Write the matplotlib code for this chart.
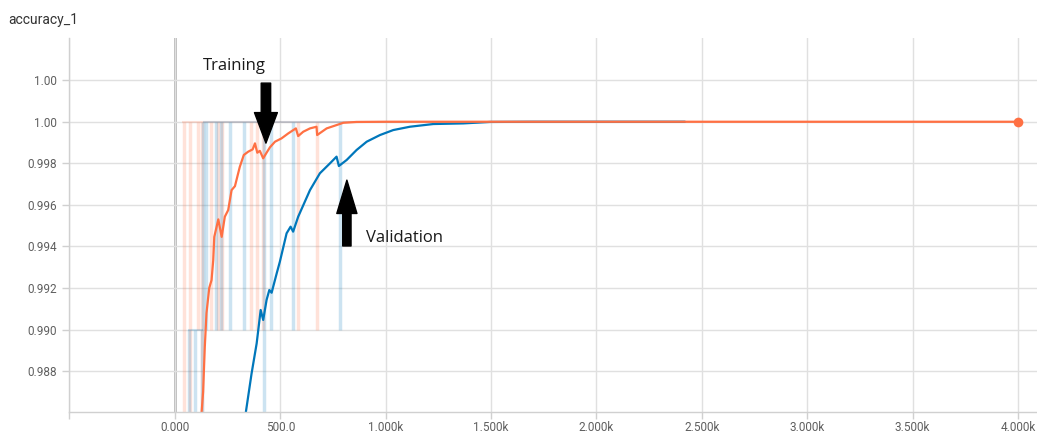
import matplotlib.pyplot as plt
import numpy as np

# smoothed curves
train_steps = [120, 127, 134, 142, 150, 163, 174, 182, 187, 206, 222, 237, 253, 269, 285,
               308, 327, 348, 369, 380, 391, 403, 419, 435, 451, 475, 506, 538, 574, 585,
               609, 641, 672, 675, 720, 767, 799, 862, 1000, 2000, 3000, 4000]
train_acc = [0.9852, 0.98604, 0.98700, 0.98917, 0.99079, 0.99200, 0.99238, 0.99334, 0.99446,
             0.99530, 0.99446, 0.99543, 0.99575, 0.99671, 0.99690, 0.99783, 0.99840, 0.99856,
             0.99867, 0.99896, 0.99851, 0.99860, 0.99824, 0.99851, 0.99877, 0.99904, 0.99920,
             0.99944, 0.99968, 0.99931, 0.99952, 0.99968, 0.99976, 0.99936, 0.99968, 0.99984,
             0.99995, 0.99999, 1.0, 1.0, 1.0, 1.0]

val_steps = [325, 337, 364, 388, 407, 419, 435, 448, 459, 483, 498, 530, 549, 561, 585, 641,
             688, 736, 767, 778, 815, 862, 910, 973, 1036, 1115, 1226, 1368, 1495, 1700, 2420]
val_acc = [0.9852, 0.98604, 0.98789, 0.98933, 0.99094, 0.99046, 0.99142, 0.99190, 0.99177,
           0.99270, 0.99326, 0.99463, 0.99495, 0.99471, 0.99543, 0.99671, 0.99752, 0.99800,
           0.99832, 0.99787, 0.99816, 0.99864, 0.99904, 0.99936, 0.99960, 0.99976, 0.99989,
           0.99992, 0.99999, 1.0, 1.0]

# raw (unsmoothed) dips: step, low value, high value
train_dip_steps = [45, 71, 112, 128, 170, 205, 222, 362, 390, 419, 585, 675]
train_dip_low = [0.97, 0.975, 0.99, 0.97, 0.99, 0.99, 0.99, 0.99, 0.99, 0.99, 0.99, 0.99]
train_raw_span = [33, 4000]

val_dip_steps = [66, 95, 128, 132, 147, 195, 218, 261, 327, 422, 456, 560, 783]
val_dip_low = [0.97, 0.97, 0.97, 0.99, 0.99, 0.99, 0.99, 0.99, 0.99, 0.975, 0.99, 0.99, 0.99]
val_dip_high = [0.99, 0.99, 0.99, 1.0, 1.0, 1.0, 1.0, 1.0, 1.0, 1.0, 1.0, 1.0, 1.0]
val_early_span = [62, 132]
val_raw_span = [132, 2420]

x_ticks = [-500, 0, 500, 1000, 1500, 2000, 2500, 3000, 3500, 4000]
x_labels = ['', '0.000', '500.0', '1.000k', '1.500k', '2.000k', '2.500k', '3.000k', '3.500k', '4.000k']
y_ticks = [0.988, 0.990, 0.992, 0.994, 0.996, 0.998, 1.000, 1.002]
y_labels = ['0.988', '0.990', '0.992', '0.994', '0.996', '0.998', '1.00', '1.00']

orange = '#ff7043'
blue = '#0077bb'
grid_c = '#e0e0e0'

plt.rcParams['font.family'] = ['Roboto', 'DejaVu Sans']

fig = plt.figure(figsize=(10.37, 4.33), dpi=100)
ax = fig.add_axes([0.0670, 0.0485, 0.9330, 0.8637])

# raw data, faint
ax.hlines(1.0, train_raw_span[0], train_raw_span[1], color=orange, alpha=0.2, lw=1.5)
ax.vlines(train_dip_steps, train_dip_low, 1.0, color=orange, alpha=0.2, lw=2.5)
ax.hlines(0.99, val_early_span[0], val_early_span[1], color=blue, alpha=0.2, lw=1.5)
ax.hlines(1.0, val_raw_span[0], val_raw_span[1], color=blue, alpha=0.2, lw=1.5)
ax.vlines(val_dip_steps, val_dip_low, val_dip_high, color=blue, alpha=0.2, lw=2.5)

# smoothed
ax.plot(val_steps, val_acc, color=blue, lw=1.6, solid_capstyle='round')
ax.plot(train_steps, train_acc, color=orange, lw=1.6, solid_capstyle='round')
ax.plot(train_steps[-1], train_acc[-1], 'o', color=orange, ms=7, mec='none')

ax.axvline(0, color='#a8a8a8', lw=1.8, zorder=0.5)

ax.set_xlim(-500, 4090)
ax.set_ylim(0.98603, 1.00403)
ax.set_xticks(x_ticks)
ax.set_xticklabels(x_labels)
ax.set_yticks(y_ticks)
ax.set_yticklabels(y_labels)
ax.grid(True, color=grid_c, lw=1.0, zorder=0)
ax.set_axisbelow(True)
for s in ['top', 'right']:
    ax.spines[s].set_visible(False)
for s in ['left', 'bottom']:
    ax.spines[s].set_color('#d0d0d0')
    ax.spines[s].set_linewidth(1.0)
ax.tick_params(axis='both', colors='#d0d0d0', labelcolor='#5f5f5f', labelsize=8.5,
               length=5, width=1.0)
ax.tick_params(axis='x', pad=1.5)
ax.tick_params(axis='y', pad=4)

fig.text(0.008, 0.953, 'accuracy_1', fontsize=10, color='#333333', va='center', ha='left')

# annotations
ax.annotate('', xy=(432, 0.99897), xytext=(432, 1.00186),
            arrowprops=dict(arrowstyle='simple,head_length=2.2,head_width=1.65,tail_width=0.68',
                            color='black', shrinkA=0, shrinkB=0, mutation_scale=10))
ax.annotate('', xy=(816, 0.99719), xytext=(816, 0.99402),
            arrowprops=dict(arrowstyle='simple,head_length=2.4,head_width=1.45,tail_width=0.6',
                            color='black', shrinkA=0, shrinkB=0, mutation_scale=10))
ax.text(280, 1.00268, 'Training', fontsize=12, family=['Open Sans', 'DejaVu Sans'],
        ha='center', va='center', color='#1a1a1a')
ax.text(1091, 0.99440, 'Validation', fontsize=12, family=['Open Sans', 'DejaVu Sans'],
        ha='center', va='center', color='#1a1a1a')

fig.savefig('out.png', dpi=100)
